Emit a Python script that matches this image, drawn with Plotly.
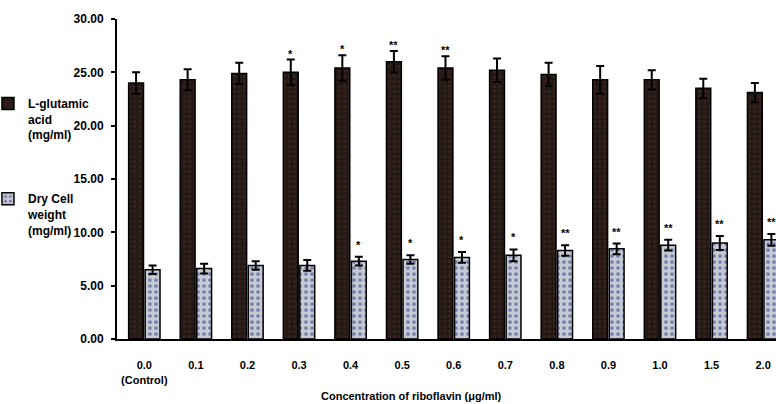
import plotly.graph_objects as go

categories = ["0.0", "0.1", "0.2", "0.3", "0.4", "0.5", "0.6", "0.7", "0.8", "0.9", "1.0", "1.5", "2.0"]
tick_labels = ["0.0<br>(Control)", "0.1", "0.2", "0.3", "0.4", "0.5", "0.6", "0.7", "0.8", "0.9", "1.0", "1.5", "2.0"]

glutamic = [24.0, 24.3, 24.9, 25.0, 25.4, 26.0, 25.4, 25.2, 24.8, 24.3, 24.3, 23.5, 23.1]
glutamic_err = [1.0, 1.0, 1.0, 1.2, 1.2, 1.0, 1.1, 1.1, 1.1, 1.3, 0.9, 0.9, 0.9]
glutamic_sig = ["", "", "", "*", "*", "**", "**", "", "", "", "", "", ""]

dry_weight = [6.5, 6.6, 6.9, 6.9, 7.3, 7.45, 7.65, 7.85, 8.3, 8.45, 8.8, 9.0, 9.3]
dry_err = [0.4, 0.45, 0.4, 0.5, 0.4, 0.4, 0.5, 0.55, 0.5, 0.5, 0.5, 0.65, 0.55]
dry_sig = ["", "", "", "", "*", "*", "*", "*", "**", "**", "**", "**", "**"]

y_ticks = [0, 5, 10, 15, 20, 25, 30]

FONT = "Arial, Liberation Sans, sans-serif"
BARGAP = 0.36
half_slot = (1 - BARGAP) / 4

fig = go.Figure()
fig.add_trace(go.Bar(
    x=categories, y=glutamic, name="L-glutamic<br>acid<br>(mg/ml)",
    error_y=dict(type="data", array=glutamic_err, color="black", thickness=2, width=4),
    marker=dict(color="#221a15", line=dict(color="black", width=1.5),
                pattern=dict(shape=".", fgcolor="#5e2626", bgcolor="#221a15", size=5, solidity=0.25)),
    legend="legend",
))
fig.add_trace(go.Bar(
    x=categories, y=dry_weight, name="Dry Cell<br>weight<br>(mg/ml)",
    error_y=dict(type="data", array=dry_err, color="black", thickness=2, width=4),
    marker=dict(color="#c6cad3", line=dict(color="black", width=1.5),
                pattern=dict(shape=".", fgcolor="#243388", bgcolor="#c6cad3", size=6, solidity=0.3)),
    legend="legend2",
))

annotations = []
for i, (v, e, s) in enumerate(zip(glutamic, glutamic_err, glutamic_sig)):
    if s:
        annotations.append(dict(x=i - half_slot, y=v + e, xref="x", yref="y", text=s,
                                showarrow=False, yanchor="bottom", yshift=-2,
                                font=dict(family=FONT, size=11, color="black", weight=700)))
for i, (v, e, s) in enumerate(zip(dry_weight, dry_err, dry_sig)):
    if s:
        annotations.append(dict(x=i + half_slot, y=v + e, xref="x", yref="y", text=s,
                                showarrow=False, yanchor="bottom", yshift=4,
                                font=dict(family=FONT, size=11, color="black", weight=700)))
annotations.append(dict(x=0.447, y=-0.177, xref="paper", yref="paper",
                        text="Concentration of riboflavin (μg/ml)", showarrow=False,
                        xanchor="center", yanchor="middle",
                        font=dict(family=FONT, size=11, color="black", weight=700)))

legend_common = dict(font=dict(family=FONT, size=12, color="black", weight=700),
                     bgcolor="rgba(0,0,0,0)", borderwidth=0, xanchor="left", yanchor="top",
                     xref="paper", yref="paper", itemwidth=30, valign="top")

fig.update_layout(
    width=776, height=404,
    margin=dict(l=117, r=0, t=19, b=65, autoexpand=False),
    paper_bgcolor="white", plot_bgcolor="white",
    barmode="group", bargap=BARGAP, bargroupgap=0.1,
    font=dict(family=FONT, size=11, color="black"),
    showlegend=True,
    legend=dict(x=-0.1958, y=0.781, **legend_common),
    legend2=dict(x=-0.1958, y=0.483, **legend_common),
    annotations=annotations,
    xaxis=dict(
        type="category", range=[-0.53, 12.25], automargin=False,
        tickmode="array", tickvals=categories, ticktext=tick_labels,
        showline=True, linecolor="black", linewidth=2, ticks="",
        ticklabelstandoff=15, showgrid=False,
        tickfont=dict(family=FONT, size=11, color="black", weight=700),
    ),
    yaxis=dict(
        range=[0, 30], tickvals=y_ticks, tickformat=".2f", automargin=False,
        showline=True, linecolor="black", linewidth=2,
        ticks="outside", ticklen=4, tickwidth=2, tickcolor="black",
        ticklabelstandoff=5,
        showgrid=False, zeroline=False,
        tickfont=dict(family=FONT, size=12, color="black", weight=700),
    ),
)

fig.write_html("out.html", config={"displayModeBar": False},
               post_script="document.body.style.margin='0';document.body.style.padding='0';")
